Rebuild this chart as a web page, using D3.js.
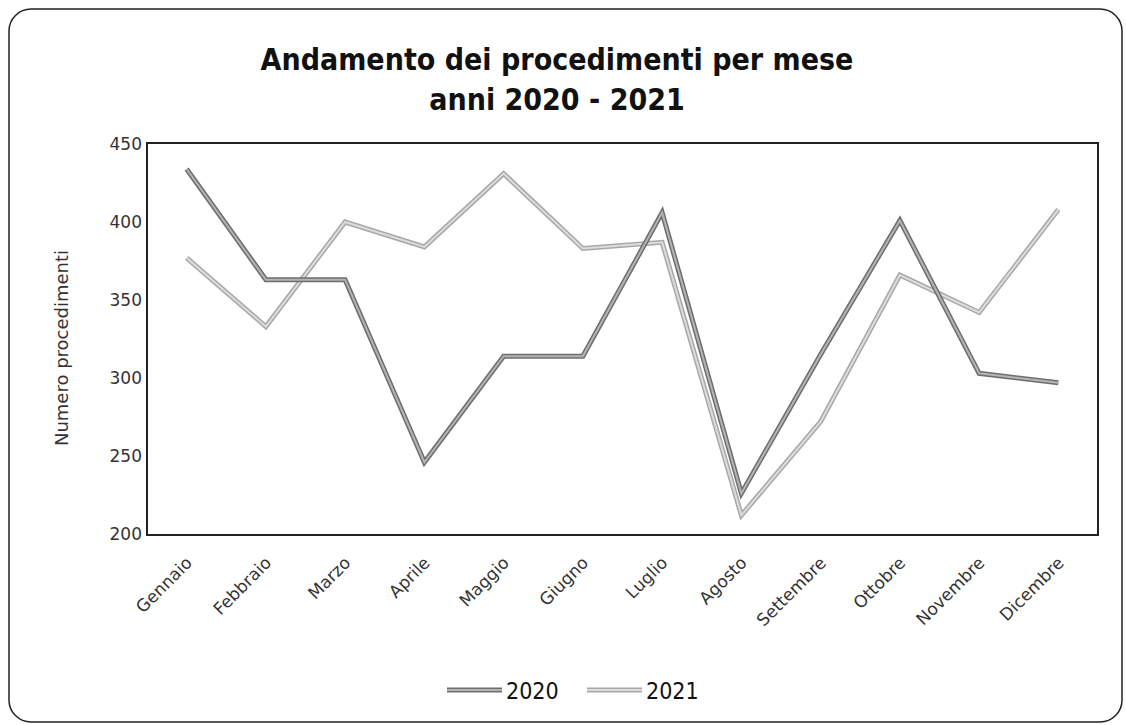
<!DOCTYPE html>
<html>
<head>
<meta charset="utf-8">
<script src="https://cdn.jsdelivr.net/npm/d3@7"></script>
<style>
  body { margin: 0; background: #fff; }
  svg text { fill: #333; }
</style>
</head>
<body>
<div id="chart"></div>
<script>
const months = ["Gennaio", "Febbraio", "Marzo", "Aprile", "Maggio", "Giugno",
                "Luglio", "Agosto", "Settembre", "Ottobre", "Novembre", "Dicembre"];
const values2020 = [434, 363, 363, 246, 314, 314, 406, 226, 315, 401, 303, 297];
const values2021 = [377, 333, 400, 384, 431, 383, 387, 212, 272, 366, 342, 408];
const yTicks = [200, 250, 300, 350, 400, 450];
const seriesNames = ["2020", "2021"];

function init(){
    const W = 1126, H = 725;
    const margin = { top: 144, right: 28, bottom: 191, left: 147 };
    const width = W - margin.left - margin.right;
    const height = H - margin.top - margin.bottom;

    const svg = d3.select("#chart")
                  .append("svg")
                  .attr("width", W)
                  .attr("height", H);

    // outer frame
    svg.append("rect")
       .attr("x", 9).attr("y", 9)
       .attr("width", W - 13).attr("height", H - 12)
       .attr("rx", 22)
       .attr("fill", "none")
       .attr("stroke", "#222")
       .attr("stroke-width", 1.5);

    // title
    const title = svg.append("text")
       .attr("text-anchor", "middle")
       .style("font-family", "'DejaVu Sans Condensed', 'DejaVu Sans'")
       .style("font-weight", "bold")
       .style("font-size", "30px")
       .style("fill", "#111");
    title.append("tspan").attr("x", 557).attr("y", 70).text("Andamento dei procedimenti per mese");
    title.append("tspan").attr("x", 557).attr("y", 110).text("anni 2020 - 2021");

    const g = svg.append("g")
                 .attr("transform", `translate(${margin.left}, ${margin.top})`);

    const xScale = d3.scalePoint()
                     .domain(months)
                     .range([0, width])
                     .padding(0.5);

    const yScale = d3.scaleLinear()
                     .domain([200, 450])
                     .range([height, 0]);

    // plot box
    g.append("rect")
     .attr("x", 0).attr("y", -1)
     .attr("width", width).attr("height", height + 2)
     .attr("fill", "none")
     .attr("stroke", "#222")
     .attr("stroke-width", 2);

    // y axis
    const yAxis = g.append("g")
       .call(d3.axisLeft(yScale).tickValues(yTicks).tickSize(0).tickPadding(5));
    yAxis.select(".domain").remove();
    yAxis.selectAll("text")
         .style("font-family", "'DejaVu Sans'")
         .style("font-size", "17px")
         .style("fill", "#333");

    // x axis
    const xAxis = g.append("g")
       .attr("transform", `translate(0, ${height})`)
       .call(d3.axisBottom(xScale).tickSize(0));
    xAxis.select(".domain").remove();
    xAxis.selectAll("text")
         .style("font-family", "'DejaVu Sans'")
         .style("font-size", "17px")
         .style("fill", "#333")
         .attr("text-anchor", "end")
         .attr("dy", null)
         .attr("y", 0)
         .attr("transform", "translate(6, 30) rotate(-45)");

    // y axis label
    svg.append("text")
       .attr("text-anchor", "middle")
       .attr("transform", "translate(68, 348) rotate(-90)")
       .style("font-family", "'DejaVu Sans'")
       .style("font-size", "18px")
       .text("Numero procedimenti");

    const line = d3.line()
                   .x((d, i) => xScale(months[i]))
                   .y(d => yScale(d));

    const styles = [
        { outer: "#6e6e6e", inner: "#b4b4b4" },
        { outer: "#a8a8a8", inner: "#dcdcdc" }
    ];

    [values2021, values2020].forEach((vals, k) => {
        const s = styles[1 - k];
        g.append("path").datum(vals)
         .attr("d", line).attr("fill", "none")
         .attr("stroke", s.outer).attr("stroke-width", 5)
         .attr("stroke-linejoin", "miter");
        g.append("path").datum(vals)
         .attr("d", line).attr("fill", "none")
         .attr("stroke", s.inner).attr("stroke-width", 2);
    });

    // legend
    const legendX = [447, 587];
    seriesNames.forEach((name, i) => {
        const row = svg.append("g")
                       .attr("transform", `translate(${legendX[i]}, 690)`);
        row.append("line")
           .attr("x1", 0).attr("x2", 55).attr("y1", 0).attr("y2", 0)
           .attr("stroke", styles[i].outer).attr("stroke-width", 5);
        row.append("line")
           .attr("x1", 0).attr("x2", 55).attr("y1", 0).attr("y2", 0)
           .attr("stroke", styles[i].inner).attr("stroke-width", 2);
        row.append("text")
           .attr("x", 59).attr("y", 9)
           .style("font-family", "'DejaVu Sans Condensed', 'DejaVu Sans'")
           .style("font-size", "23px")
           .style("fill", "#111")
           .text(name);
    });
}
window.onload = init;
</script>
</body>
</html>
